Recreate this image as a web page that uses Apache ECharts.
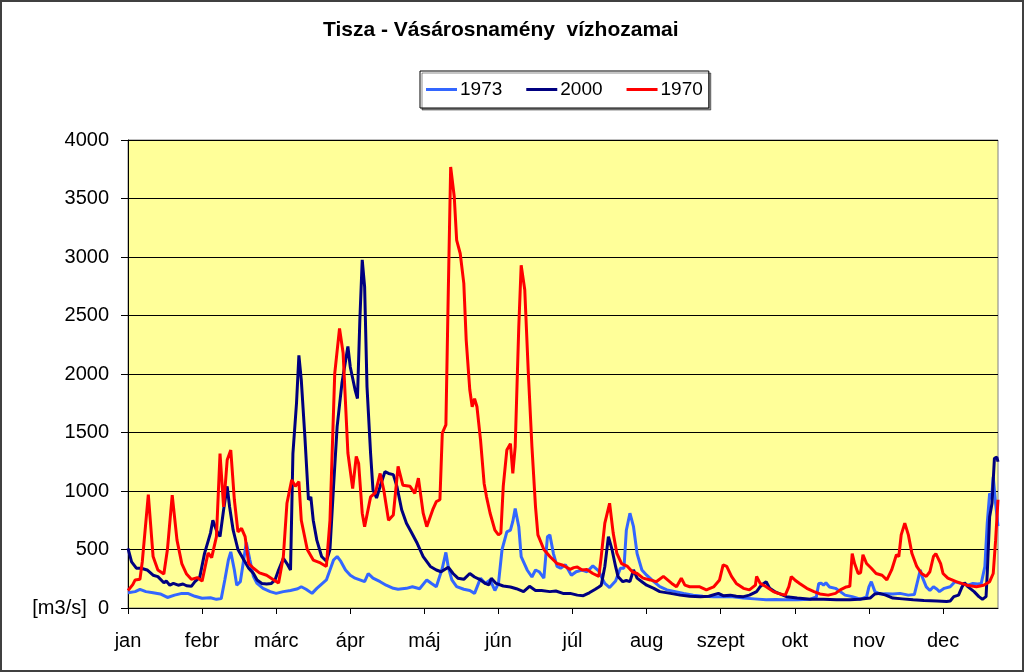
<!DOCTYPE html>
<html>
<head>
<meta charset="utf-8">
<title>Tisza - Vásárosnamény vízhozamai</title>
<script src="https://cdn.jsdelivr.net/npm/echarts@6/dist/echarts.min.js"></script>
<style>
  html, body { margin: 0; padding: 0; background: #fff; }
  #chart { width: 1024px; height: 672px; }
</style>
</head>
<body>
<div id="chart"></div>
<script>
// hónapok (tengelyfelirat minden 31. napnál)
const months = ["jan", "febr", "márc", "ápr", "máj", "jún", "júl", "aug", "szept", "okt", "nov", "dec"];
const seriesNames = ["1973", "2000", "1970"];

// [nap, m3/s] – a képről leolvasott pontok
const flow1973 = [
  [0,130],[3,140],[5,160],[7.5,140],[10.5,130],[13.5,120],[16.5,90],[19.5,110],[22.5,125],[25,125],
  [28,100],[31,83],[34.5,88],[37,74],[39,80],[40.5,240],[42,410],[43,480],[44.5,325],[45.5,195],
  [47,225],[48.5,425],[49.5,560],[51,410],[52.5,268],[54,210],[56.5,168],[59.5,140],[62,125],[65,140],
  [68,150],[71,165],[72.5,182],[74.5,160],[77,125],[79,168],[81,205],[83,240],[84.5,325],[86,410],
  [87.5,440],[89,400],[91,325],[93,280],[95,255],[97,240],[99,225],[100.5,295],[102.5,255],[105.5,225],
  [108,195],[111,168],[113,160],[116.5,168],[119,182],[122,165],[125,240],[127,210],[129,182],[131.5,340],
  [133,475],[134,350],[135.5,240],[137.5,182],[140.5,160],[143,150],[145,125],[147.5,255],[149.5,210],[151.5,240],
  [153.5,150],[155,210],[156.5,500],[158.5,650],[160,665],[161,740],[162,850],[163.5,695],[164.5,440],[167,325],
  [169,265],[170.5,325],[172,310],[174,255],[175.5,610],[176.5,625],[178,465],[179.5,355],[181,340],[183,370],
  [185.5,280],[187.5,310],[190,325],[192,310],[194.5,360],[197,315],[198,268],[199.5,210],[201.5,175],[204,230],
  [206,340],[207.5,340],[208.5,665],[210,810],[211.5,695],[213,465],[215,325],[217,280],[220,225],[222.5,182],
  [225.5,155],[229,140],[232.5,125],[236.5,110],[240.5,100],[245,97],[249,97],[253,97],[257.5,85],[262,78],
  [267,70],[271,72],[274,70],[280,70],[285.5,75],[288,95],[289,210],[290,212],[291,195],[292,216],
  [293.5,180],[296,168],[298,140],[300,110],[303,97],[306.5,75],[309,95],[310,180],[311,225],[312.5,140],
  [314.5,120],[317,122],[320,120],[323,125],[326.5,110],[329,115],[331.5,325],[332.5,255],[334,180],[335.5,150],
  [337,182],[338.5,160],[339.5,140],[341.5,168],[344,182],[346,225],[347.5,215],[349.5,205],[351.5,195],[353.5,210],
  [355.5,205],[357,210],[358.5,355],[359.5,725],[360.5,980],[361.3,930],[362,1120],[363,895],[364,700]
];

const flow2000 = [
  [0,510],[1.5,395],[3.5,340],[5.5,340],[8,325],[10.5,280],[12.5,268],[15,216],[16,230],[17.5,195],
  [19,210],[21,195],[23,205],[24.5,190],[26.5,185],[28,225],[30,262],[32,465],[34.5,640],[35.5,750],
  [37,665],[38.5,610],[40,840],[41.5,1040],[42.5,865],[44,665],[46,500],[48.5,410],[50.5,340],[52.5,295],
  [54,240],[56,210],[58,205],[60,210],[61.5,240],[63,325],[65,425],[66.5,380],[68,325],[69,1320],
  [70.5,1750],[71.5,2160],[72.5,1950],[74,1465],[75.5,925],[76.5,950],[77.5,750],[79,580],[81,440],[83,400],
  [84.5,500],[86,1040],[87.5,1550],[89.5,1920],[92,2235],[93,2060],[95,1865],[96,1790],[97,2460],[98,2975],
  [99,2745],[100,1890],[101.5,1320],[102.5,1010],[104,940],[105.5,1040],[107.5,1165],[109,1150],[111,1140],[112.5,1040],
  [114.5,840],[116.5,725],[118.5,650],[121,553],[123.5,440],[126.5,355],[129,325],[131,310],[134,348],[136,295],
  [138,255],[140.5,245],[143,295],[145,265],[147.5,240],[149.5,210],[151,197],[152,255],[154,210],[157,188],
  [160,180],[162.5,165],[165.5,140],[168,185],[170.5,150],[173,150],[176.5,140],[179,145],[182,125],[185,125],
  [188,110],[190.5,105],[193,130],[195.5,160],[197,180],[198,195],[199.5,355],[201,610],[202.5,500],[204,355],
  [205,270],[207,225],[208.5,235],[210,225],[211.5,325],[213,255],[215,225],[217,195],[220,168],[222.5,140],
  [227,125],[231,110],[235,100],[239.5,97],[243,100],[247,125],[249,105],[252,110],[254.5,100],[257.5,97],
  [260,110],[263,140],[264.5,182],[266,210],[267,225],[268.5,168],[271,135],[275.5,97],[280,85],[285.5,75],
  [291,75],[296.5,70],[302,70],[306,75],[310.5,85],[312.5,120],[314.5,125],[317,110],[320,85],[324,78],
  [328.5,70],[333,65],[338.5,60],[342.5,55],[344,60],[345.5,97],[347.5,110],[349,182],[350,216],[351.5,180],
  [354,140],[356,97],[357.5,75],[359,97],[359.5,295],[360.5,780],[361.5,895],[362.5,1280],[363.5,1290],[364,1250]
];

const flow1970 = [
  [0,150],[2,200],[3,240],[5,245],[6,400],[8.5,970],[10.5,440],[12.5,325],[15,290],[16.5,500],
  [18.5,965],[20.5,580],[22.5,380],[24.5,290],[26.5,245],[29,260],[31,230],[32,325],[33.5,470],[35,430],
  [37,610],[38.5,1320],[40,865],[41.5,1265],[43,1350],[44.5,925],[46,650],[47.5,680],[49,610],[50.5,380],
  [52.5,340],[55,300],[58,280],[61,240],[63,213],[65,440],[66.5,895],[68.5,1095],[70,1040],[71.5,1080],
  [72.5,750],[75,500],[77.5,410],[80.5,385],[83,355],[84.5,750],[86.5,2005],[88.5,2390],[90,2180],[92,1325],
  [94,1020],[95.5,1295],[96.5,1235],[98,810],[99,695],[101.5,950],[103.5,985],[105.5,1150],[107,1010],[109,750],
  [111,795],[113,1210],[115,1050],[118,1040],[120,980],[121.5,1110],[123.5,810],[125,695],[127.5,840],[129,910],
  [130.5,925],[131.5,1495],[133,1565],[134,2700],[135,3770],[136.5,3515],[137.5,3145],[139,3030],[140.5,2775],[141.5,2290],
  [143,1865],[144,1720],[145,1790],[146,1720],[147.5,1435],[149,1065],[150,950],[151.5,810],[153.5,665],[155,625],
  [156,640],[157,1040],[158.5,1350],[160,1405],[161,1150],[162,1380],[163.5,2405],[164.5,2930],[166,2720],[167.5,2005],
  [169,1380],[170.5,865],[171.5,625],[174,500],[176.5,440],[179.5,380],[182,365],[185,330],[186.5,345],[188,350],
  [190,325],[192,330],[194.5,295],[197,270],[198,440],[199.5,725],[201.5,895],[203,640],[204.5,470],[206.5,380],
  [209,355],[211,310],[213,295],[215.5,255],[218.5,240],[221,225],[224,270],[227.5,210],[229.5,182],[231.5,255],
  [233,195],[235,182],[239,182],[242,155],[245,180],[247.5,240],[249,368],[250.5,355],[252.5,270],[254.5,210],
  [257.5,168],[260,155],[262.5,195],[263,270],[264.5,210],[267,182],[270,140],[272,125],[275,110],[276.5,182],
  [277.5,268],[279,240],[281,210],[284,168],[287,140],[289.5,120],[293,110],[296,125],[298,155],[300.5,180],
  [302,185],[303,465],[304,380],[305.5,295],[306.5,300],[307.5,455],[309,380],[311,340],[313,295],[315.5,280],
  [317.5,240],[319.5,325],[321.5,455],[322.5,440],[323.5,625],[325,725],[326.5,625],[328,465],[330,355],[332,295],
  [334,270],[335.5,310],[337,440],[338,465],[340,380],[341,295],[343,255],[346.5,225],[351,195],[355,182],
  [358,195],[360.5,225],[362,295],[363,580],[364,925]
];

const colors = ["#3366ff", "#000080", "#ff0000"];
const FONT = '"Liberation Sans", Arial, sans-serif';

const chart = echarts.init(document.getElementById("chart"));

function lineSeries(name, data, color) {
  return {
    name: name,
    type: "line",
    data: data,
    showSymbol: false,
    symbol: "none",
    lineStyle: { color: color, width: 3 },
    itemStyle: { color: color },
    emphasis: { disabled: true },
    animation: false,
  };
}

const monthTicks = months.map((m, i) => i * 31);

chart.setOption({
  animation: false,
  textStyle: { fontFamily: FONT },
  title: {
    text: "Tisza - Vásárosnamény  vízhozamai",
    left: 318,
    top: 15,
    textStyle: { fontSize: 21, fontWeight: "bold", color: "#000", fontFamily: FONT },
  },
  legend: {
    data: seriesNames,
    left: 420,
    top: 71,
    padding: [9, 6, 9, 6],
    itemGap: 24,
    itemWidth: 31,
    itemHeight: 3,
    icon: "rect",
    borderColor: "#000",
    borderWidth: 1,
    backgroundColor: "#fff",
    shadowColor: "rgba(0,0,0,0.45)",
    shadowOffsetX: 2,
    shadowOffsetY: 2,
    textStyle: { fontSize: 19, color: "#000", fontFamily: FONT, padding: [0, 0, 0, -2] },
  },
  grid: {
    left: 128,
    right: 26,
    top: 140,
    bottom: 64,
    show: true,
    backgroundColor: "#ffff99",
    borderColor: "#808080",
    borderWidth: 1,
  },
  xAxis: {
    type: "value",
    min: 0,
    max: 364,
    interval: 31,
    axisLine: { lineStyle: { color: "#000", width: 1 } },
    axisTick: {
      length: 6,
      lineStyle: { color: "#000" },
      customValues: monthTicks,
    },
    axisLabel: {
      margin: 23,
      fontSize: 20,
      color: "#000",
      fontFamily: FONT,
      customValues: monthTicks,
      formatter: (v) => months[Math.round(v / 31)] || "",
    },
    splitLine: { show: false },
  },
  yAxis: {
    type: "value",
    min: 0,
    max: 4000,
    interval: 500,
    axisLine: { show: true, lineStyle: { color: "#000", width: 1 } },
    axisTick: { show: true, length: 7, lineStyle: { color: "#000" } },
    axisLabel: {
      margin: 19,
      fontSize: 20,
      color: "#000",
      fontFamily: FONT,
      formatter: (v) => (v === 0 ? "[m3/s]  0" : String(v)),
    },
    splitLine: { show: true, lineStyle: { color: "#000", width: 1 } },
  },
  graphic: [
    {
      type: "rect",
      silent: true,
      shape: { x: 1, y: 1, width: 1022, height: 670 },
      style: { fill: "none", stroke: "#404040", lineWidth: 2 },
    },
  ],
  series: [
    lineSeries(seriesNames[0], flow1973, colors[0]),
    lineSeries(seriesNames[1], flow2000, colors[1]),
    lineSeries(seriesNames[2], flow1970, colors[2]),
  ],
});
</script>
</body>
</html>
